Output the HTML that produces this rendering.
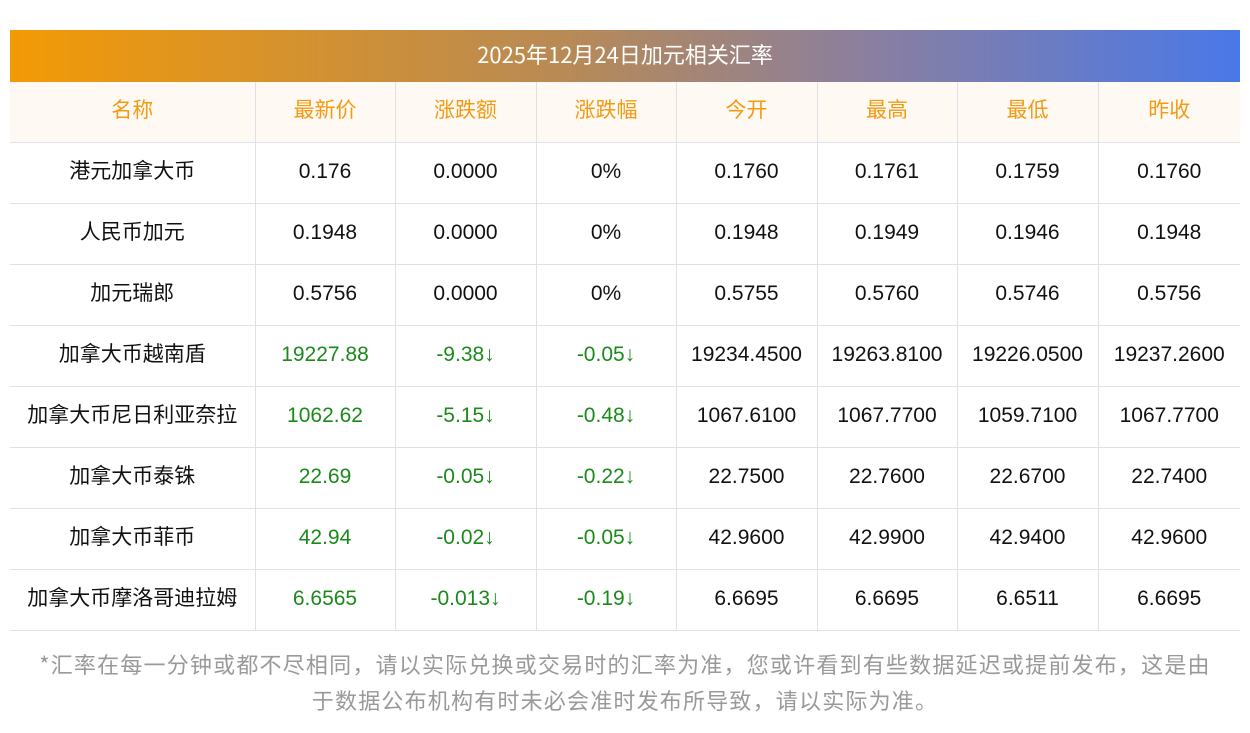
<!DOCTYPE html>
<html><head><meta charset="utf-8"><style>
body{margin:0;width:1250px;height:733px;background:#fff;font-family:"Liberation Sans","Noto Sans CJK SC",sans-serif;position:relative;overflow:hidden}
.title{position:absolute;left:10px;top:30px;width:1230px;height:52px;background:linear-gradient(90deg,#f39a05,#b88a55 45%,#8a7fa0 70%,#4a78e8);color:#fff;font-size:22px;line-height:48px;text-align:center;font-family:"Noto Sans CJK SC","Liberation Sans",sans-serif}
table{position:absolute;left:10px;top:82px;width:1230px;border-collapse:collapse;table-layout:fixed}
td{border-bottom:1px solid #dfe0e8;border-left:1px solid #dfe0e8;text-align:center;font-size:21px;color:#111;padding:0;white-space:nowrap}
td div{height:60px;line-height:58px;overflow:hidden}
td:first-child{border-left:none;font-family:"Noto Sans CJK SC",sans-serif}
td:first-child div{line-height:54px}
tr.h td{background:#fef9f3;color:#f39a12;font-family:"Noto Sans CJK SC",sans-serif}
tr.h td div{line-height:54px}
.g{color:#1b8a1b}
.note{position:absolute;left:10px;top:646px;width:1230px;text-align:center;color:#999;font-size:22px;line-height:36px;letter-spacing:1.2px;font-family:"Noto Sans CJK SC",sans-serif}
</style></head><body>
<div class="title">2025年12月24日加元相关汇率</div>
<table>
<colgroup><col style="width:245px"><col style="width:140px"><col style="width:141px"><col style="width:140px"><col style="width:141px"><col style="width:140px"><col style="width:141px"><col style="width:142px"></colgroup>
<tr class="h"><td><div>名称</div></td><td><div>最新价</div></td><td><div>涨跌额</div></td><td><div>涨跌幅</div></td><td><div>今开</div></td><td><div>最高</div></td><td><div>最低</div></td><td><div>昨收</div></td></tr>
<tr><td><div>港元加拿大币</div></td><td><div>0.176</div></td><td><div>0.0000</div></td><td><div>0%</div></td><td><div>0.1760</div></td><td><div>0.1761</div></td><td><div>0.1759</div></td><td><div>0.1760</div></td></tr>
<tr><td><div>人民币加元</div></td><td><div>0.1948</div></td><td><div>0.0000</div></td><td><div>0%</div></td><td><div>0.1948</div></td><td><div>0.1949</div></td><td><div>0.1946</div></td><td><div>0.1948</div></td></tr>
<tr><td><div>加元瑞郎</div></td><td><div>0.5756</div></td><td><div>0.0000</div></td><td><div>0%</div></td><td><div>0.5755</div></td><td><div>0.5760</div></td><td><div>0.5746</div></td><td><div>0.5756</div></td></tr>
<tr><td><div>加拿大币越南盾</div></td><td class="g"><div>19227.88</div></td><td class="g"><div>-9.38↓</div></td><td class="g"><div>-0.05↓</div></td><td><div>19234.4500</div></td><td><div>19263.8100</div></td><td><div>19226.0500</div></td><td><div>19237.2600</div></td></tr>
<tr><td><div>加拿大币尼日利亚奈拉</div></td><td class="g"><div>1062.62</div></td><td class="g"><div>-5.15↓</div></td><td class="g"><div>-0.48↓</div></td><td><div>1067.6100</div></td><td><div>1067.7700</div></td><td><div>1059.7100</div></td><td><div>1067.7700</div></td></tr>
<tr><td><div>加拿大币泰铢</div></td><td class="g"><div>22.69</div></td><td class="g"><div>-0.05↓</div></td><td class="g"><div>-0.22↓</div></td><td><div>22.7500</div></td><td><div>22.7600</div></td><td><div>22.6700</div></td><td><div>22.7400</div></td></tr>
<tr><td><div>加拿大币菲币</div></td><td class="g"><div>42.94</div></td><td class="g"><div>-0.02↓</div></td><td class="g"><div>-0.05↓</div></td><td><div>42.9600</div></td><td><div>42.9900</div></td><td><div>42.9400</div></td><td><div>42.9600</div></td></tr>
<tr><td><div>加拿大币摩洛哥迪拉姆</div></td><td class="g"><div>6.6565</div></td><td class="g"><div>-0.013↓</div></td><td class="g"><div>-0.19↓</div></td><td><div>6.6695</div></td><td><div>6.6695</div></td><td><div>6.6511</div></td><td><div>6.6695</div></td></tr>
</table>
<div class="note">*汇率在每一分钟或都不尽相同，请以实际兑换或交易时的汇率为准，您或许看到有些数据延迟或提前发布，这是由<br>于数据公布机构有时未必会准时发布所导致，请以实际为准。</div>
</body></html>
